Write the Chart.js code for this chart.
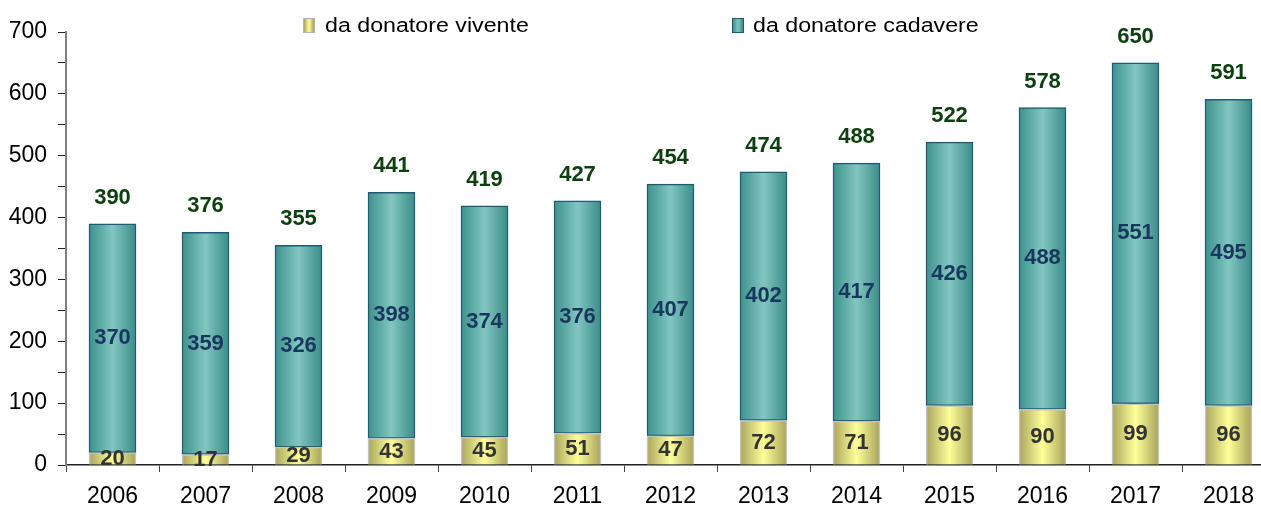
<!DOCTYPE html>
<html>
<head>
<meta charset="utf-8">
<script src="https://cdn.jsdelivr.net/npm/chart.js@4/dist/chart.umd.min.js"></script>
<style>
  html, body { margin: 0; padding: 0; background: #fff; }
  #wrap { position: relative; width: 1261px; height: 508px; overflow: hidden; }
  #chart { position: absolute; left: 0; top: 0; }
  .leg { position: absolute; top: 15px; font: 20px 'Liberation Sans', Arial, sans-serif; line-height: 20px; color: #000; white-space: nowrap; transform: scaleX(1.16); transform-origin: left top; }
  .leg-box { position: absolute; top: 18px; width: 10px; height: 13px; }
</style>
</head>
<body>
<div id="wrap">
  <canvas id="chart" width="1290" height="508"></canvas>
  <div class="leg-box" style="left:303px;background:linear-gradient(90deg,#a9a65e,#ffff99,#a6a35a);border:1px solid #b5b5b5"></div>
  <div class="leg" style="left:325px">da donatore vivente</div>
  <div class="leg-box" style="left:732px;background:linear-gradient(90deg,#3d918c,#82c6c1,#3a8c87);border:1px solid #1f5a72"></div>
  <div class="leg" style="left:753px">da donatore cadavere</div>
</div>
<script>
const years = ['2006', '2007', '2008', '2009', '2010', '2011', '2012', '2013', '2014', '2015', '2016', '2017', '2018'];
const vivente = [20, 17, 29, 43, 45, 51, 47, 72, 71, 96, 90, 99, 96];
const cadavere = [370, 359, 326, 398, 374, 376, 407, 402, 417, 426, 488, 551, 495];
const totals = [390, 376, 355, 441, 419, 427, 454, 474, 488, 522, 578, 650, 591];

const FONT = "'Liberation Sans', Arial, sans-serif";
const BAR_W = 47;

// horizontal gradient across each bar, centred on its category
function barGradient(stops) {
  return ctx => {
    const chart = ctx.chart;
    const xs = chart.scales.x;
    if (!xs || ctx.dataIndex == null) return stops[1];
    const cx = xs.getPixelForValue(ctx.dataIndex);
    if (!isFinite(cx)) return stops[1];
    const g = chart.ctx.createLinearGradient(cx - BAR_W / 2, 0, cx + BAR_W / 2, 0);
    g.addColorStop(0, stops[0]);
    g.addColorStop(0.5, stops[1]);
    g.addColorStop(1, stops[2]);
    return g;
  };
}

const valueLabels = {
  id: 'valueLabels',
  afterDatasetsDraw(chart) {
    const c = chart.ctx;
    c.save();
    c.textAlign = 'center';
    c.textBaseline = 'middle';
    c.font = `bold 22px ${FONT}`;
    const colors = ['#333333', '#17375e'];
    chart.data.datasets.forEach((ds, di) => {
      chart.getDatasetMeta(di).data.forEach((bar, i) => {
        c.fillStyle = colors[di];
        c.fillText(ds.data[i], bar.x, (bar.y + bar.base) / 2);
      });
    });
    c.fillStyle = '#0d400f';
    chart.getDatasetMeta(1).data.forEach((bar, i) => {
      c.fillText(totals[i], bar.x, bar.y - 26);
    });
    c.restore();
  }
};

new Chart(document.getElementById('chart'), {
  type: 'bar',
  data: {
    labels: years,
    datasets: [
      {
        label: 'da donatore vivente',
        data: vivente,
        backgroundColor: barGradient(['#a9a65e', '#ffff99', '#a6a35a']),
        borderColor: '#c4c4c4',
        borderWidth: 1.5,
        barThickness: BAR_W
      },
      {
        label: 'da donatore cadavere',
        data: cadavere,
        backgroundColor: barGradient(['#3d918c', '#82c6c1', '#3a8c87']),
        borderColor: '#1f5a72',
        borderWidth: 1.5,
        borderSkipped: false,
        barThickness: BAR_W
      }
    ]
  },
  options: {
    responsive: false,
    animation: false,
    devicePixelRatio: 1,
    layout: { padding: { top: 32, right: 15, left: 0, bottom: 0 } },
    plugins: { legend: { display: false }, tooltip: { enabled: false } },
    scales: {
      x: {
        stacked: true,
        afterFit: s => { s.height = 43; },
        grid: { offset: true, drawOnChartArea: false, tickLength: 7, color: '#444' },
        border: { color: '#222', width: 1.5 },
        ticks: { color: '#000', font: { family: FONT, size: 23 }, padding: 11, maxRotation: 0 }
      },
      y: {
        stacked: true,
        min: 0,
        max: 700,
        afterFit: s => { s.width = 66; },
        grid: { drawOnChartArea: false, tickLength: 8, color: '#222' },
        border: { color: '#808080', width: 2 },
        ticks: {
          stepSize: 50,
          autoSkip: false,
          color: '#000',
          padding: 11,
          font: { family: FONT, size: 23 },
          callback: v => (v % 100 === 0 ? v : '')
        }
      }
    }
  },
  plugins: [valueLabels]
});
</script>
</body>
</html>
